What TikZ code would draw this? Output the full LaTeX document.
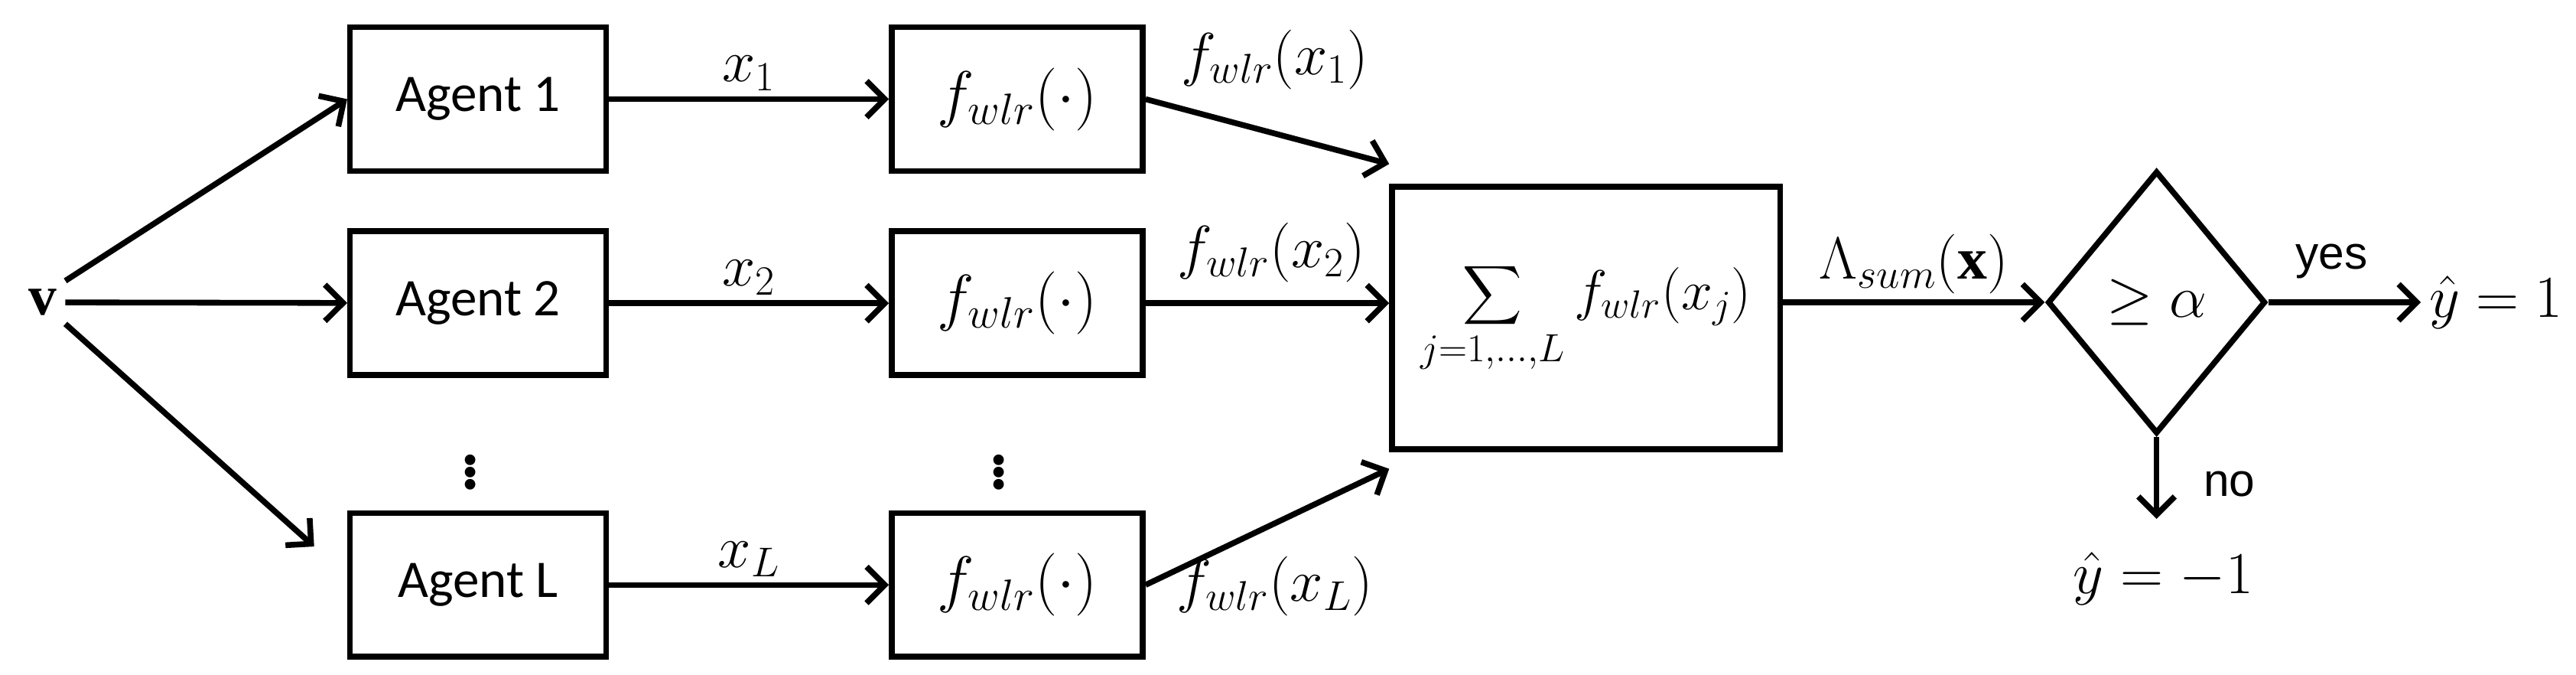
\RequirePackage{fix-cm}
\documentclass[tikz,border=0pt]{standalone}
\usepackage{amsmath}
\usepackage{fontspec}
\setmainfont{Liberation Serif}
\newfontfamily\agf{Carlito}
\newfontfamily\arf{Liberation Sans}
\usetikzlibrary{arrows.meta,shapes.geometric}
\begin{document}
\begin{tikzpicture}[x=1pt,y=-1pt,line width=3.5pt,
 box/.style={draw,minimum width=155pt,minimum height=87pt,inner sep=0pt},
 fbox/.style={draw,minimum width=152pt,minimum height=87pt,inner sep=0pt,font=\fontsize{38}{42}\selectfont},
 ag/.style={box,font=\agf\fontsize{32}{36}\selectfont},
 ar/.style={-{Straight Barb[length=11pt,width=22pt,line width=3.5pt]}},
 lab/.style={font=\fontsize{36}{40}\selectfont}]
\useasboundingbox (0,0) rectangle (1560,408.5);
\node[font=\bfseries\fontsize{34}{38}\selectfont] (v) at (26,183) {v};
\node[ag] (a1) at (289.5,60) {Agent 1};
\node[ag] (a2) at (289.5,183.5) {Agent 2};
\node[ag] (aL) at (289.5,354) {Agent L};
\node[fbox] (f1) at (616,60) {$f_{wlr}(\cdot)$};
\node[fbox] (f2) at (616,183.5) {$f_{wlr}(\cdot)$};
\node[fbox] (fL) at (616,354) {$f_{wlr}(\cdot)$};
\node[draw,minimum width=235pt,minimum height=159pt,inner sep=0pt,font=\fontsize{34}{38}\selectfont] (s) at (960.5,192.5) {$\displaystyle\sum_{j=1,\dots,L} f_{wlr}(x_j)$};
\node[draw,diamond,minimum width=132pt,minimum height=159pt,inner sep=0pt,font=\fontsize{36}{40}\selectfont] (d) at (1306,183) {$\geq\alpha$};
\node[lab,anchor=west] (y1) at (1466,183) {$\hat y = 1$};
\node[lab] (y0) at (1310,350) {$\hat y = -1$};
\coordinate (n) at (1306,314);
\node[font=\arf\fontsize{28}{32}\selectfont] at (1350,293) {no};
\node[font=\arf\fontsize{28}{32}\selectfont] at (1412,158) {yes};
\node[font=\fontsize{54}{60}\selectfont] at (285,283) {$\vdots$};
\node[font=\fontsize{54}{60}\selectfont] at (605,283) {$\vdots$};
\draw[ar] (v.north east) -- (a1.west);
\draw[ar] (v) -- (a2);
\draw[ar] (v.south east) -- ([xshift=-20pt,yshift=-22pt]aL.north west);
\draw[ar] (a1) -- node[lab,above]{$x_1$} (f1);
\draw[ar] (a2) -- node[lab,above]{$x_2$} (f2);
\draw[ar] (aL) -- node[lab,above]{$x_L$} (fL);
\draw[ar] (f1.east) -- ([yshift=12pt]s.north west);
\draw[ar] (f2.east) -- (s.west |- f2.east);
\draw[ar] (fL.east) -- ([yshift=-10pt]s.south west);
\draw[ar] (s.east |- d.west) -- node[lab,above]{$\Lambda_{sum}(\mathbf{x})$} (d.west);
\draw[ar] (d.east) -- (y1.west);
\draw[ar] (d.south) -- (n);
\node[lab] at (772,36) {$f_{wlr}(x_1)$};
\node[lab] at (770,153) {$f_{wlr}(x_2)$};
\node[lab] at (772,355) {$f_{wlr}(x_L)$};
\end{tikzpicture}
\end{document}
